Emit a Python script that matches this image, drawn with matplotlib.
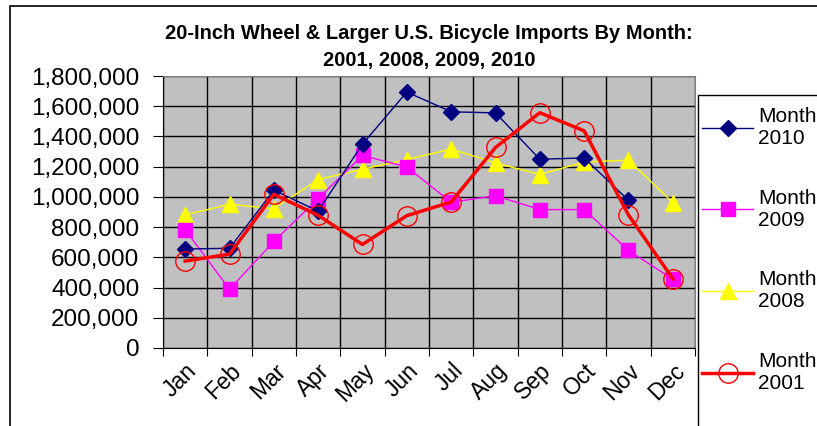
import numpy as np
import matplotlib.pyplot as plt
from matplotlib.patches import Rectangle

months = ['Jan', 'Feb', 'Mar', 'Apr', 'May', 'Jun', 'Jul', 'Aug', 'Sep', 'Oct', 'Nov', 'Dec']
y2010 = [655000, 660000, 1044000, 906000, 1349000, 1694000, 1563000, 1556000, 1249000, 1258000, 977000, np.nan]
y2009 = [783000, 389000, 705000, 989000, 1274000, 1198000, 964000, 1008000, 916000, 916000, 646000, 455000]
y2008 = [880000, 951000, 922000, 1115000, 1183000, 1247000, 1316000, 1225000, 1148000, 1231000, 1243000, 962000]
y2001 = [575000, 621000, 1017000, 878000, 685000, 876000, 966000, 1327000, 1557000, 1437000, 880000, 458000]
yticks = np.arange(0, 1800001, 200000)

plt.rcParams['font.family'] = ['Liberation Sans', 'DejaVu Sans']

W, H = 817, 426
fig = plt.figure(figsize=(W / 100, H / 100), dpi=100)
ax = fig.add_axes([163 / W, 1 - 348 / H, 532 / W, 272 / H])
ax.set_facecolor('#c0c0c0')

x = np.arange(12)
ax.plot(x, y2010, color='#000080', lw=1, marker='D', ms=8, label='Month\n2010', zorder=4)
ax.plot(x, y2009, color='#ff00ff', lw=1, marker='s', ms=10, label='Month\n2009', zorder=3)
ax.plot(x, y2008, color='#ffff00', lw=1, marker='^', ms=11, label='Month\n2008', zorder=2)
ax.plot(x, y2001, color='#ff0000', lw=2.5, marker='o', ms=14, mfc='none', mew=1,
        label='Month\n2001', zorder=5)

ax.set_xlim(-0.5, 11.5)
ax.set_ylim(0, 1800000)
ax.set_yticks(yticks)
ax.set_yticklabels([f'{v:,}' for v in yticks], fontsize=17.5)
ax.set_xticks(np.arange(-0.5, 12, 1))
ax.set_xticklabels([])
ax.set_xticks(x, minor=True)
ax.set_xticklabels(months, minor=True, fontsize=16.5, rotation=45, ha='right',
                   rotation_mode='anchor')
ax.tick_params(axis='x', which='minor', length=0, pad=8)
ax.tick_params(axis='x', which='major', direction='out', length=6, color='black')
ax.tick_params(axis='y', direction='out', length=7, pad=10)
ax.grid(True, which='major', color='black', lw=1)
ax.set_axisbelow(True)
for s in ['top', 'right']:
    ax.spines[s].set_color('#808080')
for s in ['left', 'bottom']:
    ax.spines[s].set_color('black')

fig.text(0.5 * (163 + 695) / W, 1 - 47 / H,
         '20-Inch Wheel & Larger U.S. Bicycle Imports By Month:\n2001, 2008, 2009, 2010',
         ha='center', va='center', fontsize=14.5, fontweight='bold', linespacing=1.55)

# legend box runs off the right and bottom edges, as in the reference
fig.patches.append(Rectangle((698 / W, -0.05), 0.5, 1 - 95 / H + 0.05, transform=fig.transFigure,
                             facecolor='white', edgecolor='black', lw=1))
leg = fig.legend(loc='upper left', bbox_to_anchor=(702 / W, 1 - 107 / H), fontsize=15,
                 frameon=False, labelspacing=1.95, handlelength=2.45, borderpad=0,
                 handletextpad=0.25, borderaxespad=0)

fig.patches.append(Rectangle((10 / W, -0.05), 1.2, 1 - 6 / H + 0.05, transform=fig.transFigure,
                             fill=False, edgecolor='black', lw=1.2))

fig.savefig('out.png', dpi=100)
